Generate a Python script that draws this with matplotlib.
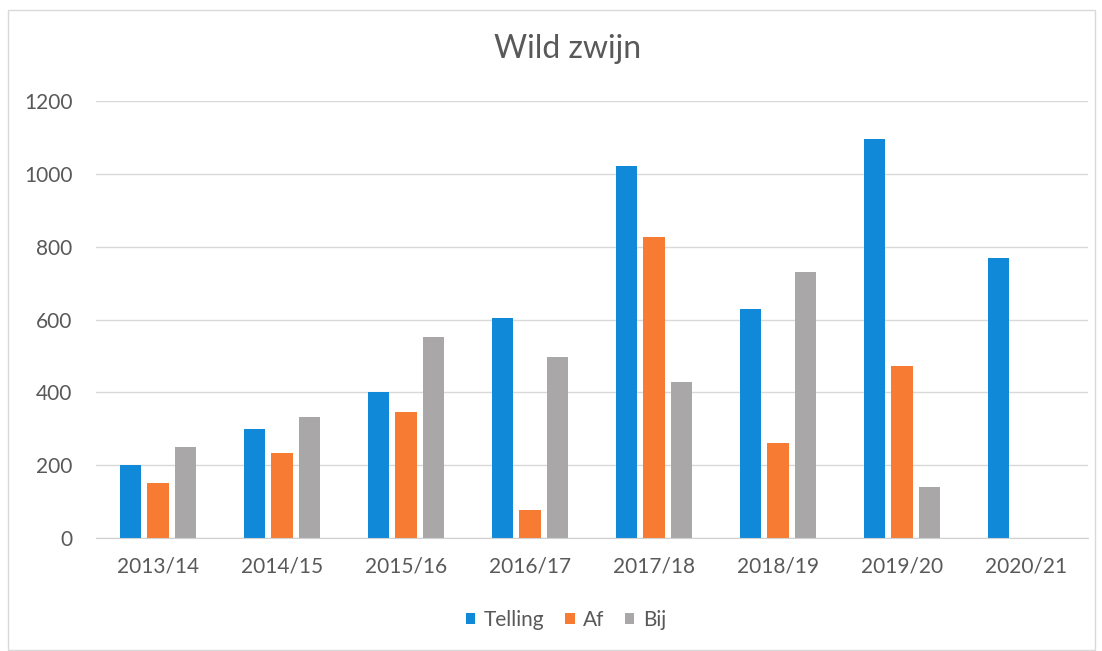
import numpy as np
import matplotlib
matplotlib.use("Agg")
from matplotlib import pyplot as plt
from matplotlib.patches import Rectangle

seizoenen = ['2013/14', '2014/15', '2015/16', '2016/17', '2017/18', '2018/19', '2019/20', '2020/21']
telling = [200, 298, 400, 605, 1022, 628, 1097, 768]
af = [152, 234, 345, 77, 826, 262, 472, 0]
bij = [251, 333, 551, 498, 429, 731, 141, 0]

plt.rcParams['font.family'] = ['Lato', 'DejaVu Sans']

fig = plt.figure(figsize=(11.02, 6.51), dpi=100)
ax = fig.add_axes([96 / 1102, 1 - 538 / 651, (1088 - 96) / 1102, (538 - 101) / 651])

# chart frame like the excel chart border
fig.patches.append(Rectangle((8 / 1102, 1 / 651), 1087 / 1102, 640 / 651, transform=fig.transFigure,
                             fill=False, edgecolor='#d9d9d9', linewidth=1))

x = np.arange(len(seizoenen))
w = 0.17
step = 0.222
ax.bar(x - step, telling, w, color='#1089d9', label='Telling')
ax.bar(x, af, w, color='#f77b32', label='Af')
ax.bar(x + step, bij, w, color='#a9a7a7', label='Bij')

ax.set_xlim(-0.5, len(seizoenen) - 0.5)
ax.set_ylim(0, 1200)
ax.set_yticks(range(0, 1201, 200))
ax.set_xticks(x)
ax.set_xticklabels(seizoenen)
ax.grid(axis='y', color='#d9d9d9', linewidth=1)
ax.set_axisbelow(True)
for s in ['top', 'right', 'left']:
    ax.spines[s].set_visible(False)
ax.spines['bottom'].set_color('#d0d0d0')
ax.tick_params(length=0, labelsize=15, labelcolor='#595959')
ax.tick_params(axis='y', pad=17)
ax.tick_params(axis='x', pad=13)

fig.text(568 / 1102, 1 - 49 / 651, 'Wild zwijn', ha='center', va='center', fontsize=23, color='#595959')

fig.legend(loc='center', bbox_to_anchor=(566 / 1102, 1 - 620 / 651), ncol=3, frameon=False,
           fontsize=15, handlelength=0.45, handleheight=0.45, handletextpad=0.4, columnspacing=1.0,
           labelcolor='#595959')

fig.savefig('out.png', dpi=100)
